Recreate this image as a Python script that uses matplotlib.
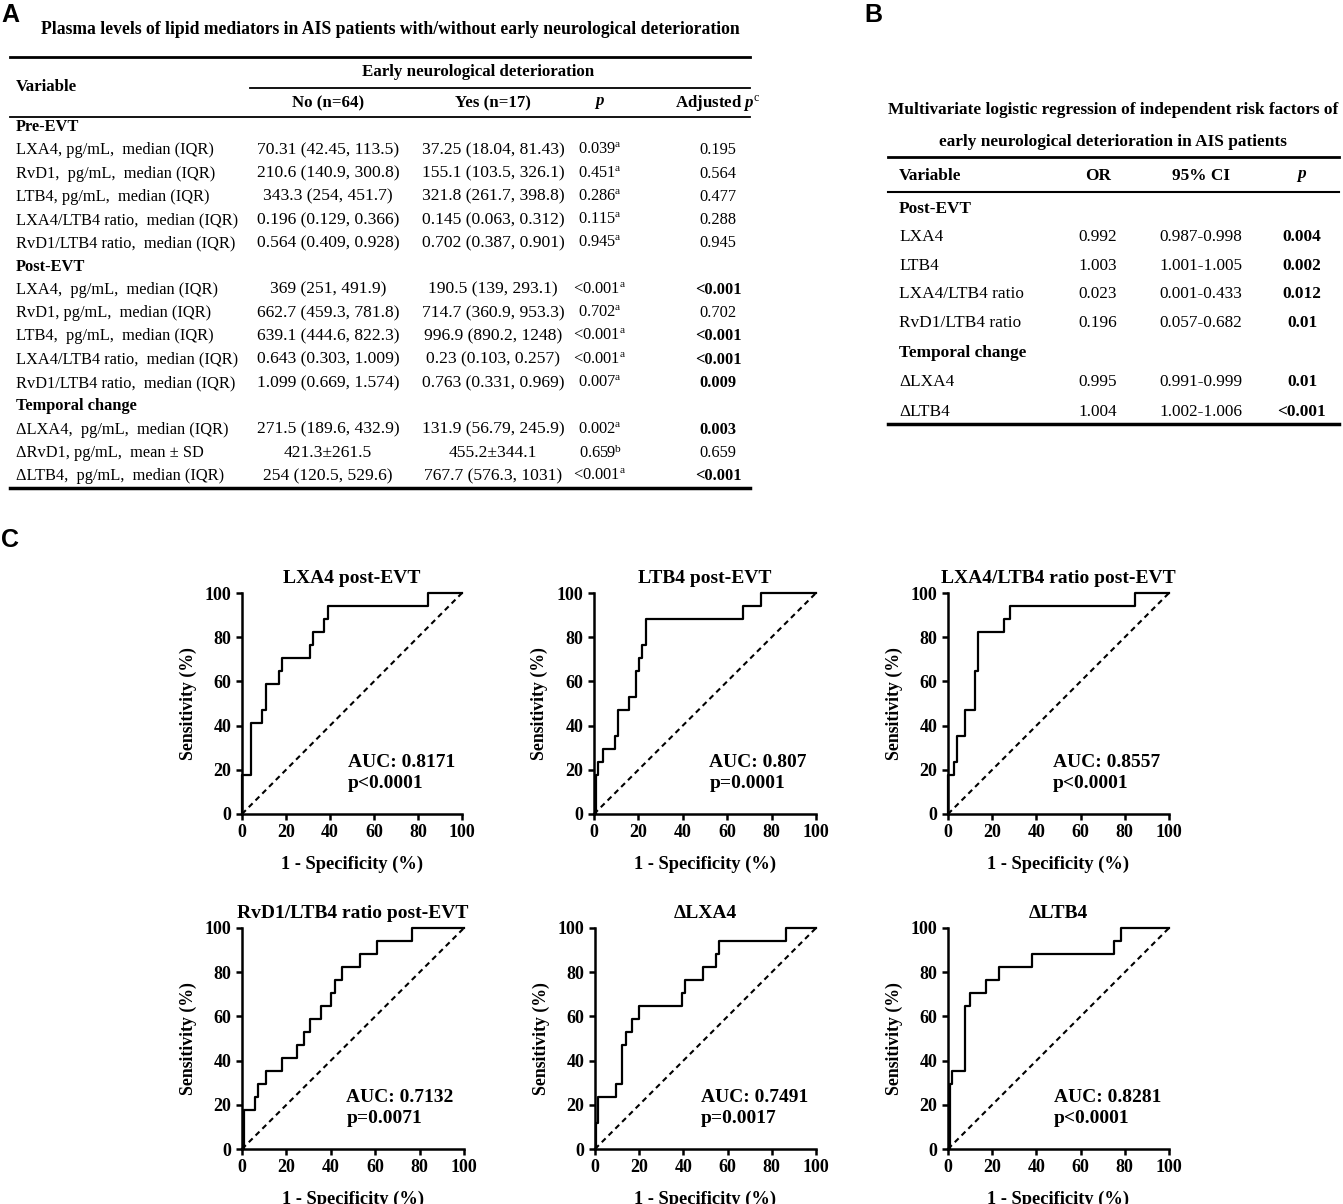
import matplotlib
matplotlib.use('Agg')
import matplotlib.pyplot as plt
from matplotlib.lines import Line2D

# ---- table A data ----
sections_a = ['Pre-EVT', 'Post-EVT', 'Temporal change']
vars_a = [
    ['LXA4, pg/mL,  median (IQR)', 'RvD1,  pg/mL,  median (IQR)', 'LTB4, pg/mL,  median (IQR)',
     'LXA4/LTB4 ratio,  median (IQR)', 'RvD1/LTB4 ratio,  median (IQR)'],
    ['LXA4,  pg/mL,  median (IQR)', 'RvD1, pg/mL,  median (IQR)', 'LTB4,  pg/mL,  median (IQR)',
     'LXA4/LTB4 ratio,  median (IQR)', 'RvD1/LTB4 ratio,  median (IQR)'],
    ['\u0394LXA4,  pg/mL,  median (IQR)', '\u0394RvD1, pg/mL,  mean \u00b1 SD', '\u0394LTB4,  pg/mL,  median (IQR)'],
]
no_a = [
    ['70.31 (42.45, 113.5)', '210.6 (140.9, 300.8)', '343.3 (254, 451.7)', '0.196 (0.129, 0.366)', '0.564 (0.409, 0.928)'],
    ['369 (251, 491.9)', '662.7 (459.3, 781.8)', '639.1 (444.6, 822.3)', '0.643 (0.303, 1.009)', '1.099 (0.669, 1.574)'],
    ['271.5 (189.6, 432.9)', '421.3\u00b1261.5', '254 (120.5, 529.6)'],
]
yes_a = [
    ['37.25 (18.04, 81.43)', '155.1 (103.5, 326.1)', '321.8 (261.7, 398.8)', '0.145 (0.063, 0.312)', '0.702 (0.387, 0.901)'],
    ['190.5 (139, 293.1)', '714.7 (360.9, 953.3)', '996.9 (890.2, 1248)', '0.23 (0.103, 0.257)', '0.763 (0.331, 0.969)'],
    ['131.9 (56.79, 245.9)', '455.2\u00b1344.1', '767.7 (576.3, 1031)'],
]
p_a = [
    ['0.039', '0.451', '0.286', '0.115', '0.945'],
    ['<0.001', '0.702', '<0.001', '<0.001', '0.007'],
    ['0.002', '0.659', '<0.001'],
]
p_sup_a = [
    ['a', 'a', 'a', 'a', 'a'],
    ['a', 'a', 'a', 'a', 'a'],
    ['a', 'b', 'a'],
]
adj_a = [
    ['0.195', '0.564', '0.477', '0.288', '0.945'],
    ['<0.001', '0.702', '<0.001', '<0.001', '0.009'],
    ['0.003', '0.659', '<0.001'],
]
adj_bold_a = [
    [False, False, False, False, False],
    [True, False, True, True, True],
    [True, False, True],
]

# ---- table B data ----
sections_b = ['Post-EVT', 'Temporal change']
vars_b = [['LXA4', 'LTB4', 'LXA4/LTB4 ratio', 'RvD1/LTB4 ratio'], ['\u0394LXA4', '\u0394LTB4']]
or_b = [['0.992', '1.003', '0.023', '0.196'], ['0.995', '1.004']]
ci_b = [['0.987-0.998', '1.001-1.005', '0.001-0.433', '0.057-0.682'], ['0.991-0.999', '1.002-1.006']]
p_b = [['0.004', '0.002', '0.012', '0.01'], ['0.01', '<0.001']]

# ---- ROC curves (step corners: 1-specificity %, sensitivity %) ----
roc_titles = ['LXA4 post-EVT', 'LTB4 post-EVT', 'LXA4/LTB4 ratio post-EVT',
              'RvD1/LTB4 ratio post-EVT', '\u0394LXA4', '\u0394LTB4']
roc_auc = ['AUC: 0.8171', 'AUC: 0.807', 'AUC: 0.8557', 'AUC: 0.7132', 'AUC: 0.7491', 'AUC: 0.8281']
roc_p = ['p<0.0001', 'p=0.0001', 'p<0.0001', 'p=0.0071', 'p=0.0017', 'p<0.0001']
roc_fpr = [
    [0, 0, 4.2, 9.0, 10.9, 17.0, 18.4, 30.9, 32.4, 37.3, 38.9, 84.5, 100],
    [0, 0.8, 2.0, 4.2, 9.5, 11.0, 15.8, 18.9, 20.3, 21.8, 23.4, 67.3, 75.1, 100],
    [0, 0, 2.6, 4.2, 7.6, 12.1, 13.6, 25.3, 28.0, 84.7, 100],
    [0, 0.8, 6.0, 7.2, 10.7, 18.2, 24.8, 27.8, 30.5, 35.8, 40.3, 41.8, 45.1, 53.1, 60.6, 76.4, 100],
    [0, 0.3, 1.5, 9.4, 12.4, 13.9, 16.9, 20.0, 39.2, 40.7, 48.7, 54.6, 56.1, 86.3, 100],
    [0, 0.8, 2.0, 7.6, 10.1, 17.1, 23.0, 37.8, 74.9, 78.2, 100],
]
roc_tpr = [
    [0, 17.6, 41.2, 47.1, 58.8, 64.7, 70.6, 76.5, 82.4, 88.2, 94.1, 100, 100],
    [0, 17.6, 23.5, 29.4, 35.3, 47.1, 52.9, 64.7, 70.6, 76.5, 88.2, 94.1, 100, 100],
    [0, 17.6, 23.5, 35.3, 47.1, 64.7, 82.4, 88.2, 94.1, 100, 100],
    [0, 17.6, 23.5, 29.4, 35.3, 41.2, 47.1, 52.9, 58.8, 64.7, 70.6, 76.5, 82.4, 88.2, 94.1, 100, 100],
    [0, 11.8, 23.5, 29.4, 47.1, 52.9, 58.8, 64.7, 70.6, 76.5, 82.4, 88.2, 94.1, 100, 100],
    [0, 29.4, 35.3, 64.7, 70.6, 76.5, 82.4, 88.2, 94.1, 100, 100],
]
auc_x = [48, 52, 47.5, 47, 48, 48]
ticks = [0, 20, 40, 60, 80, 100]

W, H = 1343, 1204
plt.rcParams['font.family'] = ['Liberation Serif', 'DejaVu Serif']
plt.rcParams['mathtext.fontset'] = 'custom'
plt.rcParams['mathtext.rm'] = 'Liberation Serif'
plt.rcParams['mathtext.it'] = 'Liberation Serif:italic:bold'
plt.rcParams['mathtext.bf'] = 'Liberation Serif:bold'

fig = plt.figure(figsize=(W / 100, H / 100), dpi=100)


def fx(px):
    return px / W


def fy(py):
    return 1 - py / H


def hline(x0, x1, y, lw):
    fig.add_artist(Line2D([fx(x0), fx(x1)], [fy(y), fy(y)], color='black', lw=lw))


def txt(x, y, s, size, ha='left', **kw):
    fig.text(fx(x), fy(y), s, fontsize=size, ha=ha, va='center', **kw)


# panel letters
for lab, x, y in [('A', 1, 15), ('B', 864, 15), ('C', 1, 540)]:
    txt(x, y, lab, 18, family='Liberation Sans', weight='bold')

# ---- table A ----
fa = 11.8
fn = 12.6
txt(390, 30, 'Plasma levels of lipid mediators in AIS patients with/without early neurological deterioration',
    12.7, ha='center', weight='bold')
hline(10, 750, 57, 2.0)
txt(16, 87, 'Variable', fa + 0.4, weight='bold')
txt(478, 72, 'Early neurological deterioration', fa + 0.4, ha='center', weight='bold')
hline(250, 750, 88, 1.3)
col_a = [328, 493, 600, 718]
txt(col_a[0], 103, 'No (n=64)', fa + 0.4, ha='center', weight='bold')
txt(col_a[1], 103, 'Yes (n=17)', fa + 0.4, ha='center', weight='bold')
txt(col_a[2], 103, '$p$', fa + 0.4, ha='center')
txt(col_a[3], 103, r'Adjusted $p^{\mathrm{c}}$', fa + 0.4, ha='center', weight='bold')
hline(10, 750, 117, 1.3)

row = 0
for si, sec in enumerate(sections_a):
    y = 127 + row * 23.27
    txt(16, y, sec, fa, weight='bold')
    row += 1
    for ri, v in enumerate(vars_a[si]):
        y = 127 + row * 23.27
        txt(16, y, v, fa)
        txt(col_a[0], y, no_a[si][ri], fn, ha='center')
        txt(col_a[1], y, yes_a[si][ri], fn, ha='center')
        txt(col_a[2], y, p_a[si][ri] + r'$^{\mathrm{' + p_sup_a[si][ri] + '}}$', fa, ha='center')
        txt(col_a[3], y, adj_a[si][ri], fa, ha='center',
            weight='bold' if adj_bold_a[si][ri] else 'normal')
        row += 1
hline(10, 750, 488, 2.5)

# ---- table B ----
fb = 12.4
txt(1113, 110, 'Multivariate logistic regression of independent risk factors of', fb, ha='center', weight='bold')
txt(1113, 142, 'early neurological deterioration in AIS patients', fb, ha='center', weight='bold')
hline(888, 1339, 157, 2.0)
col_b = [899, 1098, 1201, 1302]
txt(col_b[0], 176, 'Variable', fb, weight='bold')
txt(col_b[1], 176, 'OR', fb, ha='center', weight='bold')
txt(col_b[2], 176, '95% CI', fb, ha='center', weight='bold')
txt(col_b[3], 176, '$p$', fb, ha='center')
hline(888, 1339, 192, 1.5)
yb = [209, 237, 266, 294, 323, 353, 382, 412]
row = 0
for si, sec in enumerate(sections_b):
    txt(col_b[0], yb[row], sec, fb, weight='bold')
    row += 1
    for ri, v in enumerate(vars_b[si]):
        txt(col_b[0], yb[row], v, fb)
        txt(col_b[1], yb[row], or_b[si][ri], fb, ha='center')
        txt(col_b[2], yb[row], ci_b[si][ri], fb, ha='center')
        txt(col_b[3], yb[row], p_b[si][ri], fb, ha='center', weight='bold')
        row += 1
hline(888, 1339, 424, 2.5)

# ---- ROC panels ----
boxes = [(242, 462, 593, 814), (594, 816, 593, 814), (948, 1169, 593, 814),
         (242, 464, 928, 1149), (595, 816, 928, 1149), (948, 1169, 928, 1149)]
for i, (x0, x1, y1, y0) in enumerate(boxes):
    ax = fig.add_axes([fx(x0), fy(y0), (x1 - x0) / W, (y0 - y1) / H])
    ax.plot([0, 100], [0, 100], color='black', lw=1.5, linestyle=(0, (2.6, 2.0)), clip_on=False)
    ax.plot(roc_fpr[i], roc_tpr[i], drawstyle='steps-post', color='black', lw=1.6, clip_on=False)
    ax.set_xlim(0, 100)
    ax.set_ylim(0, 100)
    ax.set_xticks(ticks)
    ax.set_yticks(ticks)
    for s in ['top', 'right']:
        ax.spines[s].set_visible(False)
    for s in ['left', 'bottom']:
        ax.spines[s].set_linewidth(1.8)
    ax.tick_params(direction='out', length=4.5, width=1.8, labelsize=13, pad=3)
    for lab in ax.get_xticklabels() + ax.get_yticklabels():
        lab.set_fontweight('bold')
    ax.set_title(roc_titles[i], fontsize=14, fontweight='bold', pad=7)
    ax.set_ylabel('Sensitivity (%)', fontsize=12.8, fontweight='bold', labelpad=6)
    ax.set_xlabel('1 - Specificity (%)', fontsize=13.3, fontweight='bold', labelpad=10)
    ax.text(auc_x[i], 23.5, roc_auc[i], fontsize=14, fontweight='bold', va='center')
    ax.text(auc_x[i], 14, roc_p[i], fontsize=14, fontweight='bold', va='center')

fig.savefig('out.png', dpi=100)
